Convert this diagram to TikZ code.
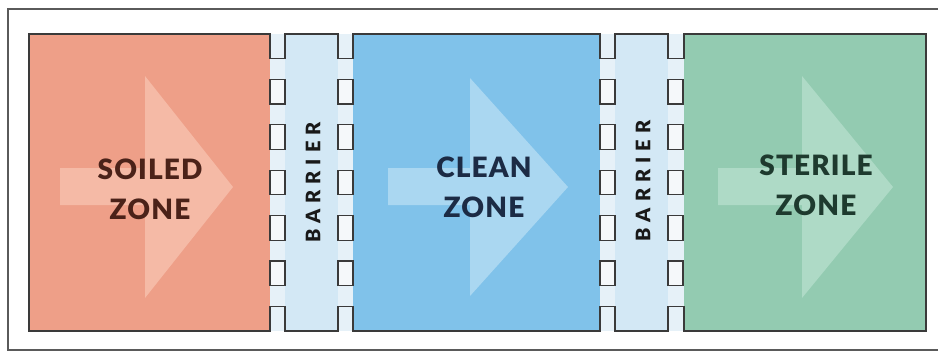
\documentclass[tikz,border=0pt]{standalone}
\usepackage{fontspec}
\setmainfont{Lato}
\newfontfamily\heavyfont{Lato Black}[LetterSpace=4]
\newfontfamily\barfont{Lato Black}[LetterSpace=30]
\definecolor{framec}{HTML}{5A5A5A}
\definecolor{linec}{HTML}{3A3A3A}
\definecolor{soilc}{HTML}{EE9F88}
\definecolor{soilarrow}{HTML}{F5BAA6}
\definecolor{soiltext}{HTML}{4B2219}
\definecolor{cleanc}{HTML}{80C2EA}
\definecolor{cleanarrow}{HTML}{AAD7F1}
\definecolor{cleantext}{HTML}{1C2B45}
\definecolor{sterc}{HTML}{93CBB1}
\definecolor{sterarrow}{HTML}{AEDAC6}
\definecolor{stertext}{HTML}{1E3A2E}
\definecolor{barc}{HTML}{D3E8F5}
\definecolor{wallc}{HTML}{E6F1F8}
\definecolor{winc}{HTML}{F5F8FA}
\begin{document}
\begin{tikzpicture}[x=1pt,y=-1pt,
  edge/.style={draw=linec,line width=1.3pt,line join=miter},
  win/.style={draw=linec,fill=winc,line width=1.2pt},
  zonetext/.style={font=\heavyfont\fontsize{28}{40}\selectfont,align=center,inner sep=0pt},
  bartext/.style={font=\barfont\fontsize{20}{20}\selectfont,rotate=90,inner sep=0pt,text=black!90}]
\useasboundingbox (0,0) rectangle (938,354);
% outer frame
\draw[framec,line width=1.6pt] (940,9) -- (8,9) -- (8,350) -- (940,350);
% zone fills
\fill[soilc] (29,34) rectangle (270,331);
\fill[cleanc] (353,34) rectangle (600,331);
\fill[sterc] (684,34) rectangle (926,331);
\fill[barc] (285,34) rectangle (338,331);
\fill[barc] (615,34) rectangle (668,331);
\fill[wallc] (270,34) rectangle (285,331);
\fill[wallc] (338,34) rectangle (353,331);
\fill[wallc] (600,34) rectangle (615,331);
\fill[wallc] (668,34) rectangle (684,331);
% flow arrows
\fill[soilarrow] (60,168) -- (145,168) -- (145,76) -- (233,187) -- (145,298) -- (145,205) -- (60,205) -- cycle;
\fill[cleanarrow] (388,168) -- (470,168) -- (470,78) -- (568,187) -- (470,296) -- (470,205) -- (388,205) -- cycle;
\fill[sterarrow] (718,168) -- (802,168) -- (802,76) -- (893,187) -- (802,298) -- (802,205) -- (718,205) -- cycle;
% outline with notches
\draw[edge] (29,34) -- (270,34) -- (270,58.5) -- (285,58.5) -- (285,34) -- (338,34) -- (338,58.5) -- (353,58.5) -- (353,34)
  -- (600,34) -- (600,58.5) -- (615,58.5) -- (615,34) -- (668,34) -- (668,58.5) -- (684,58.5) -- (684,34) -- (926,34)
  -- (926,331) -- (684,331) -- (684,306.4) -- (668,306.4) -- (668,331) -- (615,331) -- (615,306.4) -- (600,306.4) -- (600,331)
  -- (353,331) -- (353,306.4) -- (338,306.4) -- (338,331) -- (285,331) -- (285,306.4) -- (270,306.4) -- (270,331) -- (29,331) -- cycle;
% windows in walls
\foreach \wx in {270,338,600,668}{
  \foreach \wy in {79.4,124.8,170.2,215.6,261}{
    \draw[win] (\wx,\wy) rectangle ++(15,24.5);
  }
}
% labels
\node[zonetext,text=soiltext] (soiled) at (150,189) {SOILED\\ZONE};
\node[zonetext,text=cleantext] (clean) at (484,187) {CLEAN\\ZONE};
\node[zonetext,text=stertext] (sterile) at (816,185) {STERILE\\ZONE};
\node[bartext] (bar1) at (313,182.5) {BARRIER};
\node[bartext] (bar2) at (643,181) {BARRIER};
\end{tikzpicture}
\end{document}
